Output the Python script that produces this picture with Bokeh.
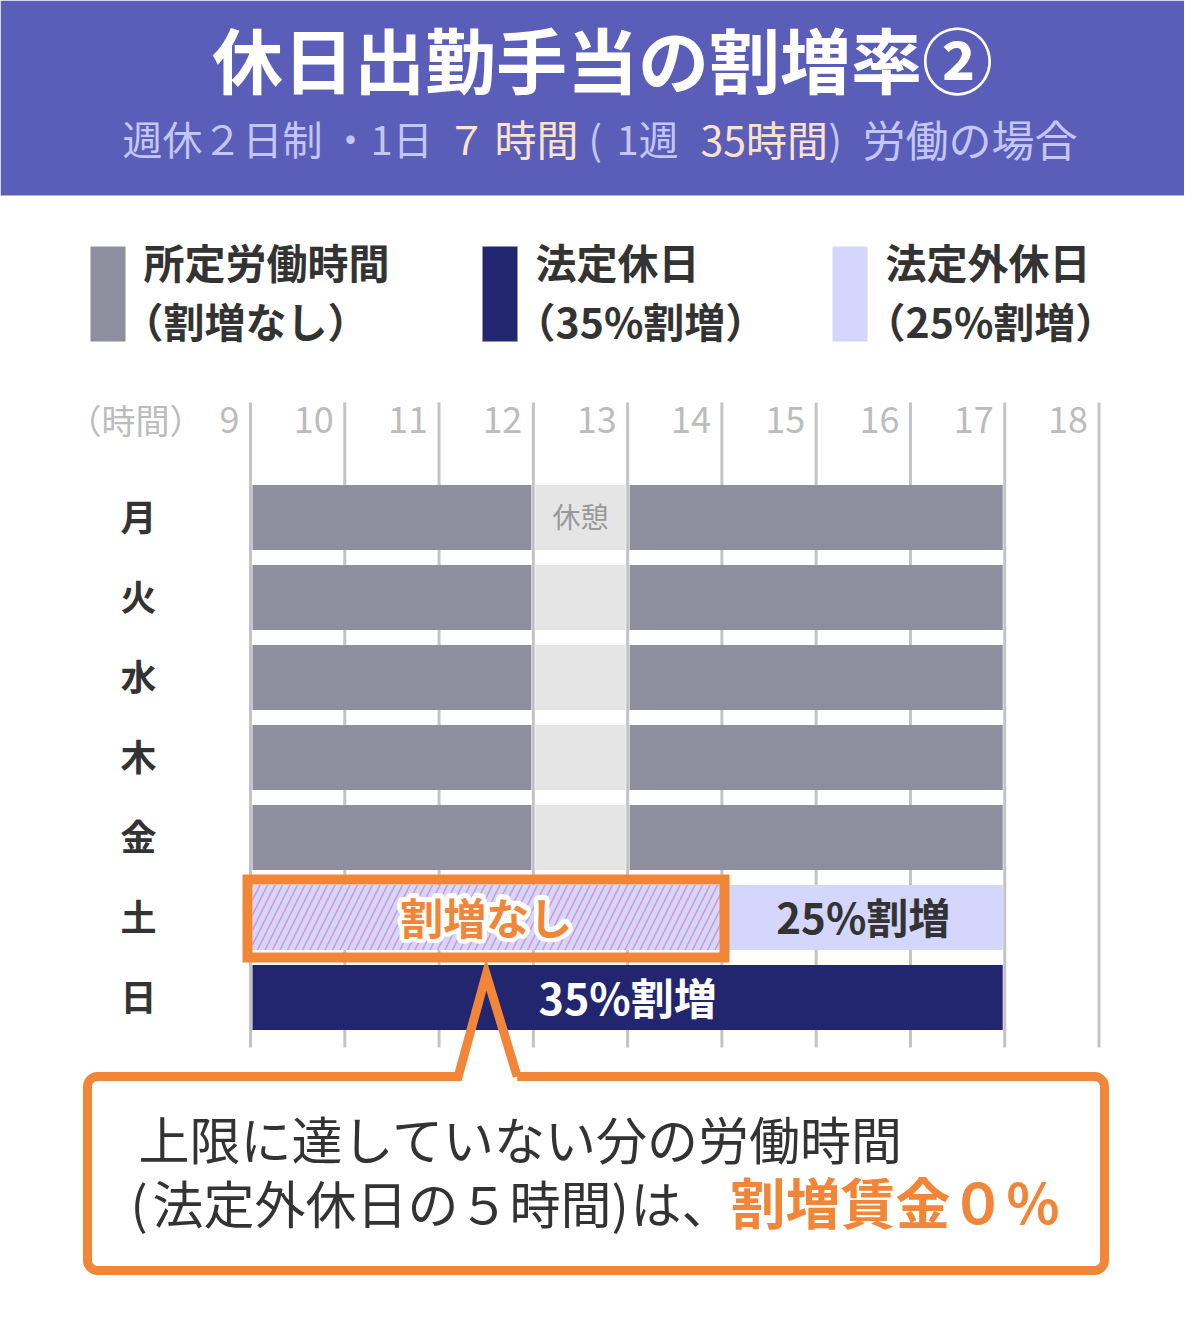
import numpy as np
from bokeh.plotting import figure
from bokeh.models import Range1d
from bokeh.core.properties import value
from bokeh.embed import file_html
from bokeh.resources import INLINE

# --- data ---
days = ["月", "火", "水", "木", "金", "土", "日"]
weekdays = ["月", "火", "水", "木", "金"]
am_hours = [9, 12]
pm_hours = [13, 17]
break_hours = [12, 13]
sat_plain_hours = [9, 14]     # 割増なし
sat_extra_hours = [14, 17]    # 25%割増
sun_hours = [9, 17]           # 35%割増
hour_ticks = [9, 10, 11, 12, 13, 14, 15, 16, 17, 18]

legend_names = ["所定労働時間", "法定休日", "法定外休日"]
legend_notes = ["（割増なし）", "（35%割増）", "（25%割増）"]

# --- colours / fonts ---
BAND = "#5a5eb9"
SUB = "#c3c7f7"
PEACH = "#ffe2cc"
GRAY = "#8f8e9e"
NAVY = "#22266f"
LAV = "#d4d6fb"
BREAK = "#e5e5e5"
GRID = "#c4c4c4"
ORANGE = "#f28638"
DARK = "#333333"
FONT = value("Noto Sans CJK JP")

# page pixel -> data helpers (x in hours, y in rows, rows grow downward)
PXH = 94.28
ROW = 80.0
def hx(px):
    return 9 + (px - 250) / PXH
def ry(py):
    return (py - 517) / ROW

p = figure(width=1184, height=1316, output_backend="svg", toolbar_location=None,
           x_range=Range1d(hx(0), hx(1184)), y_range=Range1d(ry(1316), ry(0)),
           x_axis_type=None, y_axis_type=None, min_border=0)
p.outline_line_color = None
p.grid.visible = False
p.background_fill_color = "white"


def txt(x, y, text, size, color, bold=False, align="left", **kw):
    p.text(x=[x], y=[y], text=[text], text_font=FONT,
           text_font_size=value(f"{size}px"),
           text_font_style="bold" if bold else "normal",
           text_color=color, text_align=align, text_baseline="middle", **kw)


# header band
p.quad(left=hx(0), right=hx(1200), top=ry(0), bottom=ry(195),
       fill_color=BAND, line_color=None)
txt(hx(602), ry(56), "休日出勤手当の割増率②", 71, "white", bold=True, align="center")
sub_parts = [("週休２日制", SUB, 122, 40), ("・1日", SUB, 330, 40),
             ("７", PEACH, 446, 40), ("時間", PEACH, 494, 42),
             ("(", SUB, 588, 40), ("1週", SUB, 616, 40),
             ("35時間", PEACH, 700, 41), (")", SUB, 828, 40),
             ("労働の場合", SUB, 862, 43)]
for s, c, x0, fs in sub_parts:
    txt(hx(x0), ry(137), s, fs, c)

# legend
sw_left = [90, 482, 832]
for i, col in enumerate([GRAY, NAVY, LAV]):
    p.quad(left=hx(sw_left[i]), right=hx(sw_left[i] + 35), top=ry(246), bottom=ry(341),
           fill_color=col, line_color=None)
    txt(hx(sw_left[i] + 53), ry(260), legend_names[i], 41, DARK, bold=True)
    txt(hx(sw_left[i] + 32), ry(319), legend_notes[i], 41, DARK, bold=True)

# grid + hour labels
p.segment(x0=hour_ticks, y0=ry(402), x1=hour_ticks, y1=ry(1047),
          line_color=GRID, line_width=3)
p.text(x=hour_ticks, y=[ry(419)] * len(hour_ticks), text=[str(h) for h in hour_ticks],
       text_font=FONT, text_font_size=value("36px"), text_color="#bcbcbc",
       text_align="right", text_baseline="middle", x_offset=-11)
txt(hx(203), ry(419), "（時間）", 34, "#bcbcbc", align="right")

# bars
ins = 2 / PXH
half = 32.5 / ROW
rows = [days.index(d) for d in weekdays]
for seg in (am_hours, pm_hours):
    p.quad(left=[seg[0] + ins] * len(rows), right=[seg[1] - ins] * len(rows),
           top=[r - half for r in rows], bottom=[r + half for r in rows],
           fill_color=GRAY, line_color=None)
p.quad(left=[break_hours[0] + ins] * len(rows), right=[break_hours[1] - ins] * len(rows),
       top=[r - half for r in rows], bottom=[r + half for r in rows],
       fill_color=BREAK, line_color=None)
txt(sum(break_hours) / 2, days.index("月"), "休憩", 28, "#999999", align="center", y_offset=-2)

sat = days.index("土")
sun = days.index("日")
p.quad(left=[sat_plain_hours[0] + ins], right=[sat_plain_hours[1]], top=[sat - half],
       bottom=[sat + half], fill_color=LAV, line_color=None,
       hatch_pattern="/", hatch_color="#d49ac6", hatch_scale=15, hatch_weight=1.6)
p.quad(left=[sat_extra_hours[0]], right=[sat_extra_hours[1] - ins], top=[sat - half],
       bottom=[sat + half], fill_color=LAV, line_color=None)
p.quad(left=[sun_hours[0] + ins], right=[sun_hours[1] - ins], top=[sun - half],
       bottom=[sun + half], fill_color=NAVY, line_color=None)

# day labels
p.text(x=[hx(138)] * len(days), y=list(range(len(days))), text=days, text_font=FONT,
       text_font_size=value("36px"), text_font_style="bold", text_color=DARK,
       text_align="center", text_baseline="middle", y_offset=-3)

# bar labels
txt(sum(sat_extra_hours) / 2, sat, "25%割増", 42, DARK, bold=True, align="center", y_offset=-2)
txt(sum(sun_hours) / 2, sun, "35%割増", 43, "white", bold=True, align="center", y_offset=-2)
mid = sum(sat_plain_hours) / 2
for a in np.linspace(0, 2 * np.pi, 16, endpoint=False):
    txt(mid, sat, "割増なし", 43, "white", bold=True, align="center",
        x_offset=4.5 * np.cos(a), y_offset=4.5 * np.sin(a) - 2)
txt(mid, sat, "割増なし", 43, ORANGE, bold=True, align="center", y_offset=-2)

# orange highlight frame
p.quad(left=sat_plain_hours[0] - 3 / PXH, right=sat_plain_hours[1] + 2.6 / PXH,
       top=sat - 38 / ROW, bottom=sat + 40 / ROW,
       fill_color=None, line_color=ORANGE, line_width=10, line_join="miter")

# callout box with pointer
L, R, T, B, rad = 87, 1104, 1076, 1270, 10
apx = 250 + (mid - 9) * PXH
p.quad(left=hx(L), right=hx(R), top=ry(T), bottom=ry(B), fill_color="white", line_color=None)
def arc(cx, cy, a0, a1):
    t = np.linspace(a0, a1, 8)
    return list(cx + rad * np.cos(t)), list(cy + rad * np.sin(t))
xs, ys = [apx + 31], [T]
for cx, cy, a0, a1 in [(R - rad, T + rad, -np.pi / 2, 0), (R - rad, B - rad, 0, np.pi / 2),
                       (L + rad, B - rad, np.pi / 2, np.pi), (L + rad, T + rad, np.pi, 1.5 * np.pi)]:
    ax, ay = arc(cx, cy, a0, a1)
    xs += ax
    ys += ay
xs += [apx - 28, apx, apx + 31]
ys += [T, 974, T]
p.line(x=[hx(v) for v in xs], y=[ry(v) for v in ys], line_color=ORANGE, line_width=9,
       line_join="miter")

txt(hx(138), ry(1137), "上限に達していない分の労働時間", 51, DARK)
note_parts = [("(", 130), ("法定外休日の５時間", 152), (")", 611), ("は、", 630)]
for s, x0 in note_parts:
    txt(hx(x0), ry(1201), s, 51, DARK)
txt(hx(730), ry(1199), "割増賃金０％", 55, ORANGE, bold=True)

open("out.html", "w").write(file_html(p, INLINE))
